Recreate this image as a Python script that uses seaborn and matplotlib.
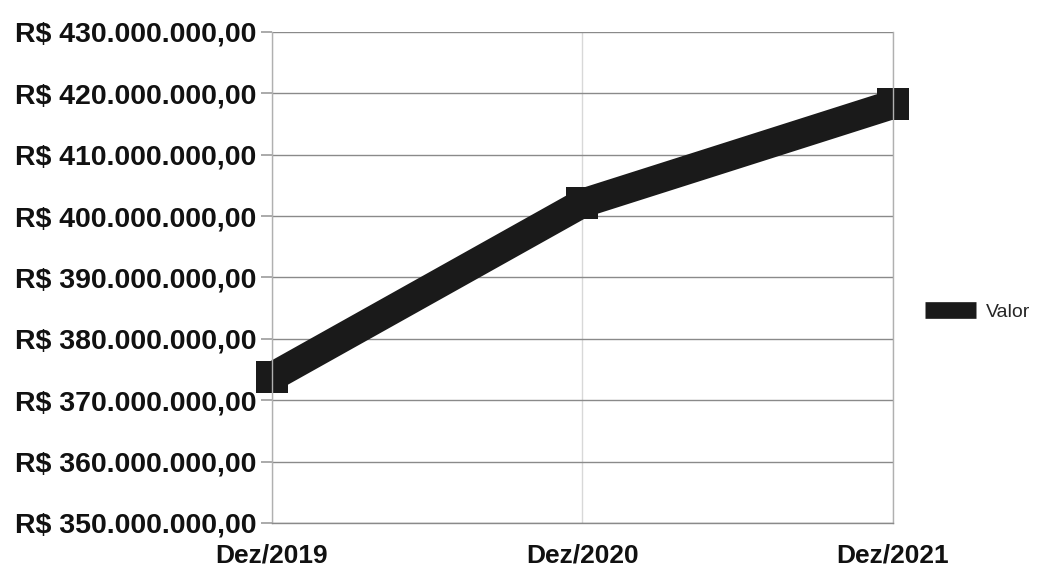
import matplotlib
matplotlib.use("Agg")
import matplotlib.pyplot as plt
import matplotlib.ticker as mticker
import seaborn as sns
import pandas as pd

meses = ["Dez/2019", "Dez/2020", "Dez/2021"]
valores = [373.8e6, 402.1e6, 418.2e6]
serie = "Valor"

df = pd.DataFrame({"mes": meses, "valor": valores})

sns.set_theme(style="white")
plt.rcParams["font.family"] = ["Liberation Sans", "DejaVu Sans"]

fig = plt.figure(figsize=(10.41, 5.73), dpi=100)
ax = fig.add_axes([0.2613, 0.0873, 0.8578 - 0.2613, 0.9442 - 0.0873])

sns.lineplot(data=df, x="mes", y="valor", ax=ax, color="#1a1a1a",
             linewidth=21, marker="s", markersize=23, markeredgewidth=0,
             label=serie, clip_on=False, solid_joinstyle="miter",
             solid_capstyle="butt")

def fmt(v, pos):
    s = f"{v:,.2f}"
    s = s.replace(",", "X").replace(".", ",").replace("X", ".")
    return "R$ " + s

ax.set_ylim(350e6, 430e6)
ax.set_xlim(0, 2)
ax.yaxis.set_major_locator(mticker.MultipleLocator(10e6))
ax.yaxis.set_major_formatter(mticker.FuncFormatter(fmt))
ax.grid(True, axis="y", color="#8a8a8a", linewidth=1.0)
ax.grid(True, axis="x", color="#d8d8d8", linewidth=1.0)
for side in ["left", "bottom", "right", "top"]:
    ax.spines[side].set_visible(side in ("left", "bottom", "right"))
    ax.spines[side].set_color("#b0b0b0")
    ax.spines[side].set_linewidth(1.0)
ax.spines["bottom"].set_color("#8a8a8a")

ax.tick_params(axis="y", which="major", length=8, color="#a0a0a0", left=True,
               labelsize=20.5, pad=3)
ax.tick_params(axis="x", length=0, labelsize=19, pad=15)
for lab in ax.get_yticklabels() + ax.get_xticklabels():
    lab.set_fontweight("bold")
    lab.set_color("#111111")
ax.set_xlabel("")
ax.set_ylabel("")

ax.legend_.remove()
h, l = ax.get_legend_handles_labels()
leg = fig.legend(h, l, loc="center left", bbox_to_anchor=(0.885, 0.455),
                 frameon=False, fontsize=14, handlelength=2.6,
                 handletextpad=0.5, borderpad=0.2, borderaxespad=0.0)
for line in leg.get_lines():
    line.set_linewidth(12)
    line.set_marker("")
    line.set_solid_capstyle("butt")

fig.savefig("out.png", dpi=100, facecolor="white")
